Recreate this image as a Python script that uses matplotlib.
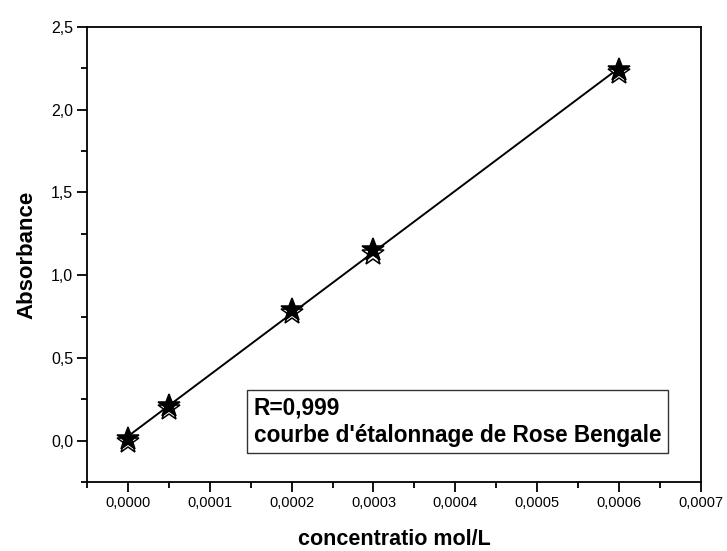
import numpy as np
import matplotlib.pyplot as plt
from matplotlib.ticker import MultipleLocator, FuncFormatter

plt.rcParams['font.family'] = ['Liberation Sans', 'DejaVu Sans']

# donnees
conc = [0.0, 0.00005, 0.0002, 0.0003, 0.0006]
abs_mes = [0.01, 0.21, 0.79, 1.15, 2.24]   # etoiles pleines
abs_fit = [-0.01, 0.19, 0.77, 1.13, 2.22]  # etoiles vides
xticks = [0.0, 0.0001, 0.0002, 0.0003, 0.0004, 0.0005, 0.0006, 0.0007]
yticks = [0.0, 0.5, 1.0, 1.5, 2.0, 2.5]

fig = plt.figure(figsize=(7.27, 5.51), dpi=100)
ax = fig.add_axes([0.1197, 0.125, 0.8443, 0.826])

p = np.polyfit(conc, abs_mes, 1)
xl = np.array([conc[0], conc[-1]])
ax.plot(xl, np.polyval(p, xl), color='black', lw=1.4, zorder=2)
ax.plot(conc, abs_fit, linestyle='none', marker='*', ms=17, mfc='white',
        mec='black', mew=1.1, zorder=3)
ax.plot(conc, abs_mes, linestyle='none', marker='*', ms=17, mfc='black',
        mec='black', mew=1.1, zorder=4)

ax.set_xlim(-0.00005, 0.0007)
ax.set_ylim(-0.25, 2.5)
ax.set_xticks(xticks)
ax.set_yticks(yticks)
ax.xaxis.set_minor_locator(MultipleLocator(0.00005))
ax.yaxis.set_minor_locator(MultipleLocator(0.25))
ax.xaxis.set_major_formatter(FuncFormatter(lambda v, pos: f'{v:.4f}'.replace('.', ',')))
ax.yaxis.set_major_formatter(FuncFormatter(lambda v, pos: f'{v:.1f}'.replace('.', ',')))
ax.tick_params(which='major', direction='out', length=7, width=1.3, labelsize=10.5, pad=3)
ax.tick_params(axis='y', which='major', labelsize=11.5)
ax.tick_params(which='minor', direction='out', length=4, width=1.3)
for s in ax.spines.values():
    s.set_linewidth(1.3)

ax.set_xlabel('concentratio mol/L', fontsize=15.5, fontweight='bold', labelpad=14)
ax.set_ylabel('Absorbance', fontsize=16, fontweight='bold', labelpad=10)

ax.text(0.000154, 0.115, "R=0,999\ncourbe d'étalonnage de Rose Bengale",
        fontsize=16.3, fontweight='bold', ha='left', va='center', linespacing=1.2,
        bbox=dict(boxstyle='square,pad=0.3', fc='white', ec='#333333', lw=1.0),
        zorder=5)

fig.savefig('out.png', dpi=100)
